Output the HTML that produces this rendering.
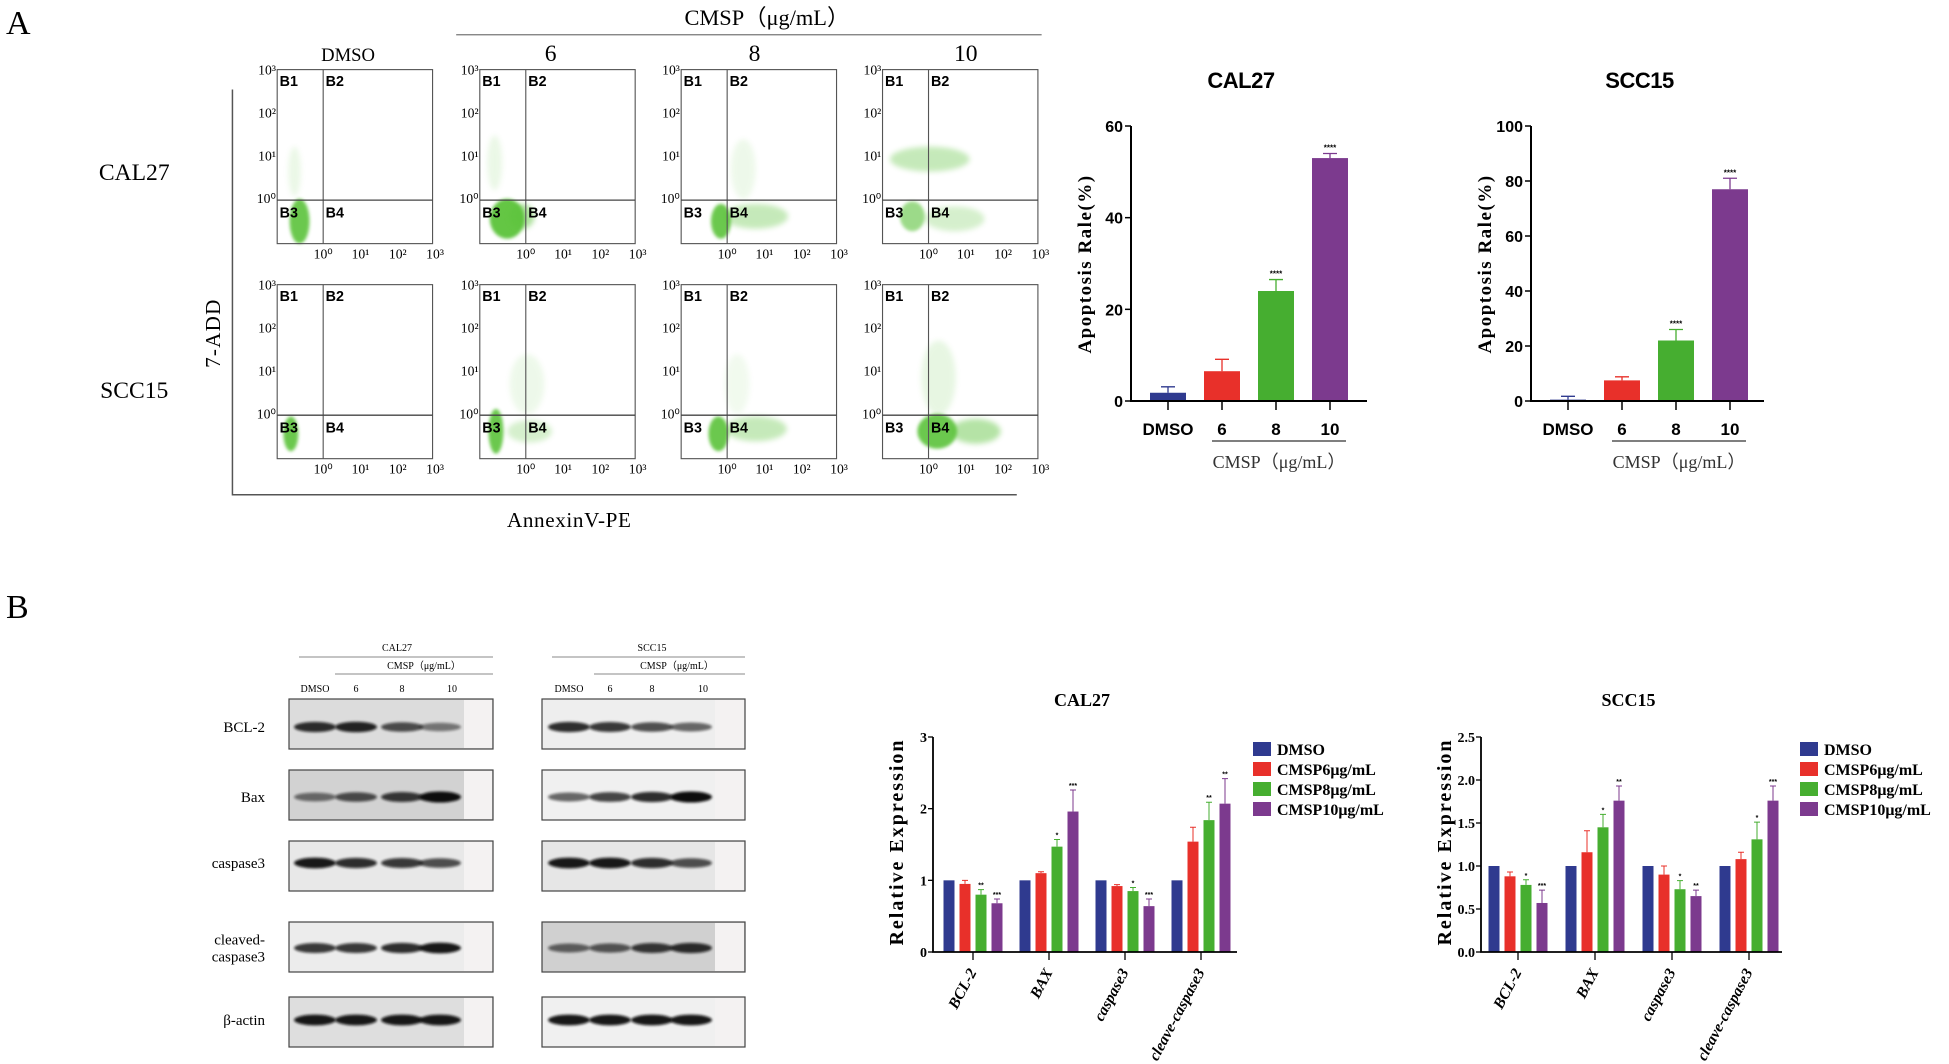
<!DOCTYPE html>
<html><head><meta charset="utf-8"><style>
html,body{margin:0;padding:0;background:#fff;}
svg{display:block;}
.serif{font-family:"Liberation Serif",serif;}
.sans{font-family:"Liberation Sans",sans-serif;}
</style></head><body>
<svg id="fig" xmlns="http://www.w3.org/2000/svg" width="1949" height="1064" viewBox="0 0 1949 1064">
<defs>
<filter id="blur1" x="-50%" y="-50%" width="200%" height="200%"><feGaussianBlur stdDeviation="2.2"/></filter>
<filter id="blur2" x="-50%" y="-50%" width="200%" height="200%"><feGaussianBlur stdDeviation="1.2"/></filter>
</defs>
<g id="flow" transform="scale(1.2430)"></g>
<g id="apop"></g>
<g id="blots"></g>
<g id="expr"></g>
</svg>
<script>
// ---------- Panel A bar chart data ----------
const apopCategories = ["DMSO","6","8","10"];
const cal27Apop = [1.8, 6.5, 24, 53];
const cal27ApopErr = [1.3, 2.6, 2.5, 1.0];
const scc15Apop = [0.5, 7.5, 22, 77];
const scc15ApopErr = [1.2, 1.3, 4, 4];
const cal27ApopTicks = [0,20,40,60];
const scc15ApopTicks = [0,20,40,60,80,100];
const apopStars = ["","","****","****"];
// ---------- Panel B bar chart data ----------
const exprCategories = ["BCL-2","BAX","caspase3","cleave-caspase3"];
const exprSeries = ["DMSO","CMSP6μg/mL","CMSP8μg/mL","CMSP10μg/mL"];
const cal27Expr = [[1,1,1,1],[0.95,1.1,0.92,1.54],[0.8,1.47,0.85,1.84],[0.68,1.96,0.64,2.07]];
const cal27ExprErr = [[0,0,0,0],[0.05,0.02,0.02,0.2],[0.07,0.1,0.05,0.25],[0.06,0.3,0.1,0.35]];
const cal27ExprStars = [["","","",""],["","","",""],["**","*","*","**"],["***","***","***","**"]];
const scc15Expr = [[1,1,1,1],[0.88,1.16,0.9,1.08],[0.78,1.45,0.73,1.31],[0.57,1.76,0.65,1.76]];
const scc15ExprErr = [[0,0,0,0],[0.05,0.25,0.1,0.08],[0.06,0.15,0.1,0.2],[0.15,0.17,0.07,0.17]];
const scc15ExprStars = [["","","",""],["","","",""],["*","*","*","*"],["***","**","**","***"]];
const cal27ExprTicks = ["0","1","2","3"];
const scc15ExprTicks = ["0.0","0.5","1.0","1.5","2.0","2.5"];

const COLORS = ["#2f3a8f","#e8302a","#46ae30","#7c3a8e"];
const NS = "http://www.w3.org/2000/svg";
function mk(tag, attrs, parent, text){
  const e = document.createElementNS(NS, tag);
  for (const k in attrs) e.setAttribute(k, attrs[k]);
  if (text !== undefined) e.textContent = text;
  parent.appendChild(e);
  return e;
}
const fig = document.getElementById('fig');

let t;
t = mk('text',{x:6,y:34,'font-size':34,class:'serif'},fig,'A');


t = mk('text',{x:6,y:618,'font-size':34,class:'serif'},fig,'B');



// ---------- Flow cytometry ----------
const flow = document.getElementById('flow');
t = mk('text',{x:617,y:20,'font-size':18,'text-anchor':'middle',class:'serif'},flow,'CMSP（μg/mL）');


t = mk('line',{x1:367,y1:28,x2:838,y2:28,stroke:'#777','stroke-width':1},flow);


const colLabels = [["DMSO",280,15],["6",443,19],["8",607,19],["10",777,19]];
colLabels.forEach(c=>{
  const e = mk('text',{x:c[1],y:49,'font-size':c[2],'text-anchor':'middle',class:'serif'},flow,c[0]);
  
  
});
t = mk('text',{x:108,y:145,'font-size':19,'text-anchor':'middle',class:'serif'},flow,'CAL27');


t = mk('text',{x:108,y:320,'font-size':19,'text-anchor':'middle',class:'serif'},flow,'SCC15');


t = mk('text',{x:0,y:0,'font-size':17,'text-anchor':'middle',class:'serif',transform:'translate(177,268) rotate(-90)',style:'letter-spacing:1px'},flow,'7-ADD');


t = mk('path',{d:'M187 72 V398 H818',fill:'none',stroke:'#555','stroke-width':1.2},flow);


t = mk('text',{x:458,y:424,'font-size':17,'text-anchor':'middle',class:'serif',style:'letter-spacing:0.5px'},flow,'AnnexinV-PE');



const plotLefts = [223,386,548,710];
const rowTops = [56,229];
const clusters = [
 [[[18,122,8,18,0.9,2],[14,82,5,20,0.12,1]],
  [[22,120,14,16,0.95,2],[34,118,10,10,0.5,1],[12,75,6,22,0.12,1]],
  [[32,122,8,14,0.9,2],[60,118,26,10,0.35,1],[50,80,10,24,0.1,1]],
  [[38,72,32,10,0.35,1],[24,118,10,12,0.6,2],[58,120,24,10,0.25,1]]],
 [[[11,120,6,14,0.9,2]],
  [[13,118,6,18,0.9,2],[40,118,18,9,0.25,1],[38,80,14,24,0.1,1]],
  [[30,120,8,14,0.9,2],[60,116,25,10,0.35,1],[45,80,10,24,0.08,1]],
  [[44,118,16,14,0.9,2],[75,118,20,10,0.45,1],[45,75,14,30,0.14,1]]]
];
const yTickTxt = ["10³","10²","10¹","10⁰"];
const xTickTxt = ["10⁰","10¹","10²","10³"];
rowTops.forEach((top,ri)=>{
  plotLefts.forEach((left,ci)=>{
    const g = mk('g',{},flow);
    
    
    clusters[ri][ci].forEach(c=>{
      const e = mk('ellipse',{cx:left+c[0],cy:top+c[1],rx:c[2],ry:c[3],fill:'#5cc33a',opacity:c[4],filter:'url(#blur'+c[5]+')'},g);
      
      
    });
    const box = mk('rect',{x:left,y:top,width:125,height:140,fill:'none',stroke:'#555','stroke-width':0.9},g);
    
    
    const gv = mk('line',{x1:left+37,y1:top,x2:left+37,y2:top+140,stroke:'#555','stroke-width':0.9},g);
    
    
    const gh = mk('line',{x1:left,y1:top+105,x2:left+125,y2:top+105,stroke:'#444','stroke-width':1.1},g);
    
    
    [["B1",2,13],["B2",39,13],["B3",2,119],["B4",39,119]].forEach(q=>{
      const e = mk('text',{x:left+q[1],y:top+q[2],'font-size':11.5,'font-weight':'bold',class:'sans'},g,q[0]);
      
      
    });
    yTickTxt.forEach((s,i)=>{
      const e = mk('text',{x:left-1,y:top+4+i*34.5,'font-size':11,'text-anchor':'end',class:'serif'},g,s);
      
      
    });
    xTickTxt.forEach((s,i)=>{
      const e = mk('text',{x:left+37+i*30,y:top+152,'font-size':11,'text-anchor':'middle',class:'serif'},g,s);
      
      
    });
  });
});

// ---------- Panel A bar charts ----------
const apop = document.getElementById('apop');
function apopChart(name, title, axisX, xEnd, ymax, vals, errs, ticks){
  const g = mk('g',{},apop);
  
  
  const y0 = 401, yTop = 126;
  const yS = v => y0 - (v/ymax)*(y0-yTop);
  const xS = i => axisX + 37 + i*54;
  const ti = mk('text',{x:(axisX+xEnd)/2-8,y:88,'font-size':22,'font-weight':'bold','text-anchor':'middle',class:'sans',style:'letter-spacing:-0.5px'},g,title);
  
  
  const yt = mk('text',{x:0,y:0,'font-size':19,'font-weight':'bold','text-anchor':'middle',class:'serif',transform:`translate(${axisX-40},264) rotate(-90)`,style:'letter-spacing:1.5px'},g,'Apoptosis Rale(%)');
  
  
  vals.forEach((v,i)=>{
    const cx = xS(i);
    const b = mk('rect',{x:cx-18,y:yS(v),width:36,height:y0-yS(v),fill:COLORS[i]},g);
    
    
    const eTop = yS(v+errs[i]);
    const el = mk('path',{d:`M${cx} ${yS(v)} V${eTop} M${cx-7} ${eTop} H${cx+7}`,stroke:COLORS[i],'stroke-width':1.3,fill:'none'},g);
    
    
    if (apopStars[i]) {
      const s = mk('text',{x:cx,y:eTop-3,'font-size':8,'text-anchor':'middle',class:'sans','font-weight':'bold'},g,apopStars[i]);
      
      
    }
    const tk = mk('line',{x1:cx,y1:y0,x2:cx,y2:y0+9,stroke:'#000','stroke-width':1.5},g);
    
    
    const lb = mk('text',{x:cx,y:435,'font-size':17,'font-weight':'bold','text-anchor':'middle',class:'sans'},g,apopCategories[i]);
    
    
  });
  ticks.forEach(tv=>{
    const y = yS(tv);
    const tk = mk('line',{x1:axisX-6,y1:y,x2:axisX,y2:y,stroke:'#000','stroke-width':1.5},g);
    
    
    const lb = mk('text',{x:axisX-8,y:y+6,'font-size':16,'font-weight':'bold','text-anchor':'end',class:'sans'},g,String(tv));
    
    
  });
  const ax = mk('path',{d:`M${axisX} ${yTop} V${y0} H${xEnd}`,stroke:'#000','stroke-width':2,fill:'none'},g);
  
  
  const br = mk('line',{x1:xS(1)-10,y1:441,x2:xS(3)+16,y2:441,stroke:'#555','stroke-width':1.5},g);
  
  
  const cl = mk('text',{x:xS(2)+3,y:468,'font-size':18,'text-anchor':'middle',class:'serif',fill:'#333'},g,'CMSP（μg/mL）');
  
  
}
apopChart('cal27-apoptosis-chart','CAL27',1131,1367,60,cal27Apop,cal27ApopErr,cal27ApopTicks);
apopChart('scc15-apoptosis-chart','SCC15',1531,1764,100,scc15Apop,scc15ApopErr,scc15ApopTicks);

// ---------- Western blots ----------
const blots = document.getElementById('blots');
const blotRows = [["BCL-2",699,727],["Bax",770,797],["caspase3",841,863],["cleaved-\ncaspase3",922,948],["β-actin",997,1020]];
const calBand = [[0.85,0.9,0.7,0.5],[0.55,0.7,0.8,1],[0.95,0.85,0.8,0.7],[0.8,0.8,0.85,0.95],[0.95,0.95,0.95,0.95]];
const sccBand = [[0.85,0.8,0.7,0.6],[0.6,0.75,0.85,1],[0.95,0.95,0.85,0.7],[0.6,0.65,0.8,0.85],[0.95,0.95,0.95,0.95]];
const calBg = ['#dcdcdc','#d2d2d2','#e8e8e8','#ececec','#dedede'];
const sccBg = ['#eeeeee','#f0f0f0','#e6e6e6','#d0d0d0','#f0f0f0'];
function blotSet(name, x0, x1, lanes, bands, bgs, header, hx, cx, lx){
  const g = mk('g',{},blots);
  
  
  let e = mk('text',{x:hx,y:651,'font-size':10,'text-anchor':'middle',class:'serif'},g,header);
  
  
  e = mk('line',{x1:x0+10,y1:657,x2:x1,y2:657,stroke:'#888','stroke-width':1},g);
  
  
  e = mk('text',{x:cx,y:669,'font-size':10,'text-anchor':'middle',class:'serif'},g,'CMSP（μg/mL）');
  
  
  e = mk('line',{x1:lx,y1:674,x2:x1,y2:674,stroke:'#888','stroke-width':1},g);
  
  
  ["DMSO","6","8","10"].forEach((s,i)=>{
    const l = mk('text',{x:lanes[i]+(i===3?12:0),y:692,'font-size':10,'text-anchor':'middle',class:'serif'},g,s);
    
    
  });
  blotRows.forEach((r,ri)=>{
    const rg = mk('rect',{x:x0,y:r[1],width:x1-x0,height:50,fill:bgs[ri],stroke:'#444','stroke-width':1.2},g);
    
    
    const fade = mk('rect',{x:lanes[3]+24,y:r[1]+1,width:x1-lanes[3]-25,height:48,fill:'#f4f2f2'},g);
    
    
    bands[ri].forEach((v,i)=>{
      const b = mk('ellipse',{cx:lanes[i],cy:r[2],rx:21,ry:3+v*2.5,fill:'#111',opacity:v,filter:'url(#blur2)'},g);
      
      
    });
  });
}
blotSet('cal27-blots',289,493,[315,356,402,440],calBand,calBg,'CAL27',397,424,335);
blotSet('scc15-blots',542,745,[569,610,652,691],sccBand,sccBg,'SCC15',652,677,594);
blotRows.forEach(r=>{
  const parts = r[0].split('\n');
  parts.forEach((p,pi)=>{
    const e = mk('text',{x:265,y:r[2]+5+(parts.length>1?(pi-0.5)*17:0),'font-size':15,'text-anchor':'end',class:'serif'},blots,p);
    
    
  });
});

// ---------- Panel B expression charts ----------
const expr = document.getElementById('expr');
function exprChart(name, title, axisX, xEnd, ymax, firstGroup, groupGap, vals, errs, stars, tickLabels, legendX){
  const g = mk('g',{},expr);
  
  
  const y0 = 952, yTop = 737;
  const yS = v => y0 - (v/ymax)*(y0-yTop);
  const gx = j => firstGroup + j*groupGap;
  const bx = (j,i) => gx(j) + (i-1.5)*16;
  let e = mk('text',{x:(axisX+xEnd)/2-3,y:706,'font-size':18,'font-weight':'bold','text-anchor':'middle',class:'serif'},g,title);
  
  
  e = mk('text',{x:0,y:0,'font-size':20,'font-weight':'bold','text-anchor':'middle',class:'serif',transform:`translate(${axisX-30},842) rotate(-90)`,style:'letter-spacing:2px'},g,'Relative Expression');
  
  
  vals.forEach((ser,i)=>{
    ser.forEach((v,j)=>{
      const cx = bx(j,i);
      const b = mk('rect',{x:cx-5.5,y:yS(v),width:11,height:y0-yS(v),fill:COLORS[i]},g);
      
      
      if (errs[i][j] > 0) {
        const et = yS(v+errs[i][j]);
        const eb = mk('path',{d:`M${cx} ${yS(v)} V${et} M${cx-3} ${et} H${cx+3}`,stroke:COLORS[i],'stroke-width':1,fill:'none'},g);
        
        
      }
      if (stars[i][j]) {
        const s = mk('text',{x:cx,y:yS(v+errs[i][j])-2,'font-size':7,'text-anchor':'middle',class:'sans','font-weight':'bold'},g,stars[i][j]);
        
        
      }
    });
  });
  tickLabels.forEach((s,k)=>{
    const y = yS(ymax*k/(tickLabels.length-1));
    const tk = mk('line',{x1:axisX-5,y1:y,x2:axisX,y2:y,stroke:'#000','stroke-width':1.3},g);
    
    
    const lb = mk('text',{x:axisX-6,y:y+5,'font-size':14,'font-weight':'bold','text-anchor':'end',class:'serif'},g,s);
    
    
  });
  exprCategories.forEach((c,j)=>{
    const tk = mk('line',{x1:gx(j),y1:y0,x2:gx(j),y2:y0+8,stroke:'#000','stroke-width':1.3},g);
    
    
    const lb = mk('text',{x:0,y:0,'font-size':15.5,'font-weight':'bold','font-style':'italic','text-anchor':'end',class:'serif',transform:`translate(${gx(j)+4},${y0+20}) rotate(-62)`},g,c);
    
    
  });
  const ax = mk('path',{d:`M${axisX} ${yTop} V${y0} H${xEnd}`,stroke:'#000','stroke-width':1.8,fill:'none'},g);
  
  
  exprSeries.forEach((s,i)=>{
    const y = 749 + i*20;
    const sw = mk('rect',{x:legendX,y:y-7,width:18,height:14,fill:COLORS[i]},g);
    
    
    const lt = mk('text',{x:legendX+24,y:y+6,'font-size':16,'font-weight':'bold',class:'serif'},g,s);
    
    
  });
}
exprChart('cal27-expression-chart','CAL27',933,1237,3,973,76,cal27Expr,cal27ExprErr,cal27ExprStars,cal27ExprTicks,1253);
exprChart('scc15-expression-chart','SCC15',1481,1782,2.5,1518,77,scc15Expr,scc15ExprErr,scc15ExprStars,scc15ExprTicks,1800);
</script>
</body></html>
